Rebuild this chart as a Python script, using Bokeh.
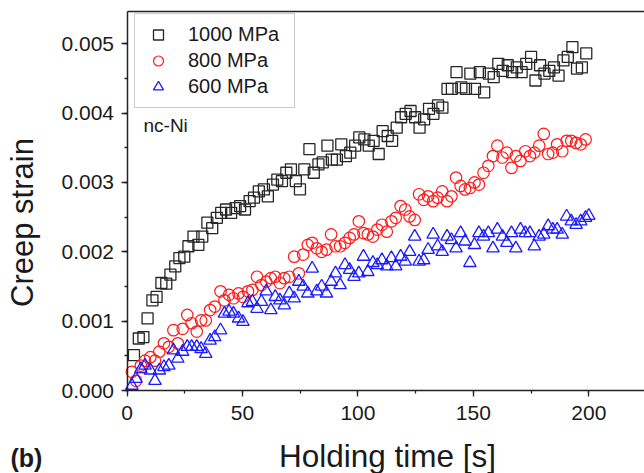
from bokeh.plotting import figure
from bokeh.models import (ColumnDataSource, SingleIntervalTicker, NumeralTickFormatter, FixedTicker,
                          Label, Legend, LegendItem, Range1d, LinearAxis)
from bokeh.embed import file_html
from bokeh.resources import INLINE

# ---------------- data (strain values in units of 1e-3) ----------------
t_1000 = [3, 5.1, 7.1, 8.9, 11, 12.8, 14.9, 17, 18.8, 20.9, 22.7, 24.8, 26.6, 28.8, 30.9,
          32.6, 34.8, 36.9, 38.9, 40.8, 42.9, 45.1, 47, 49, 51.1, 53.1, 55, 57.1, 59.3,
          61, 63.2, 65.1, 67.1, 69, 71, 73.1, 74.9, 76.8, 79, 80.9, 82.9, 84.8, 86.8,
          88.7, 90.9, 92.8, 94.8, 96.7, 98.8, 100.6, 102.8, 104.7, 106.8, 109, 110.7,
          112.9, 114.8, 116.8, 118.7, 120.7, 122.8, 124.8, 126.7, 128.7, 130.8, 132.7,
          134.7, 136.6, 138.8, 140.7, 142.7, 144.8, 146.8, 148.7, 150.7, 152.8, 154.7,
          156.7, 158.8, 160.8, 162.7, 164.9, 166.8, 168.8, 170.9, 172.9, 175, 176.9,
          178.9, 180.8, 182.9, 184.9, 186.9, 189, 190.9, 192.9, 194.9, 197, 198.9]
e_1000 = [0.51, 0.75, 0.77, 1.04, 1.30, 1.35, 1.55, 1.54, 1.67, 1.79, 1.91, 1.93, 2.08,
          2.22, 2.10, 2.22, 2.42, 2.34, 2.49, 2.56, 2.61, 2.56, 2.63, 2.66, 2.61, 2.73,
          2.78, 2.87, 2.90, 2.80, 2.97, 3.04, 3.02, 3.14, 3.19, 3.02, 2.90, 3.19, 3.48,
          3.14, 3.26, 3.29, 3.53, 3.33, 3.33, 3.55, 3.38, 3.43, 3.53, 3.65, 3.62, 3.53,
          3.60, 3.41, 3.74, 3.67, 3.60, 3.79, 3.94, 3.99, 4.03, 3.94, 3.79, 3.91, 4.06,
          3.99, 4.11, 4.08, 4.35, 4.35, 4.59, 4.37, 4.35, 4.57, 4.35, 4.59, 4.30, 4.57,
          4.52, 4.71, 4.61, 4.69, 4.59, 4.66, 4.59, 4.71, 4.81, 4.47, 4.69, 4.57, 4.61,
          4.66, 4.54, 4.76, 4.81, 4.95, 4.64, 4.66, 4.86]

t_800 = [2.1, 3.9, 6, 7.8, 10.1, 12.1, 14, 16, 18.1, 20.1, 22, 24.1, 26.1, 28, 30.2, 32.1,
         34.1, 36, 38, 40.5, 42.2, 44.2, 46.1, 48.3, 50.2, 52.4, 54.3, 56.3, 58.2, 60.3,
         62.3, 64.2, 66.2, 68.1, 70.3, 72.4, 74.4, 76.3, 78.3, 80.2, 82.2, 84.3, 86.4,
         88.4, 90.3, 92.3, 94.4, 96.4, 98.3, 100.4, 102.4, 104.3, 106.5, 108.4, 110.4,
         112.5, 114.5, 116.4, 118.5, 120.5, 122.4, 124.6, 126.5, 128.5, 130.4, 132.6,
         134.5, 136.5, 138.6, 140.5, 142.5, 144.5, 146.4, 148.5, 150.5, 152.4, 154.4,
         156.5, 158.5, 160.4, 162.6, 164.5, 166.5, 168.4, 170.4, 172.5, 174.5, 176.4,
         178.5, 180.5, 182.4, 184.4, 186.3, 188.5, 190.4, 192.4, 194.5, 196.5, 198.6]
e_800 = [0.27, 0.14, 0.36, 0.43, 0.48, 0.43, 0.56, 0.68, 0.63, 0.87, 0.68, 0.89, 1.09,
         0.97, 0.85, 1.01, 1.01, 1.16, 1.21, 1.43, 1.30, 1.38, 1.33, 1.40, 1.35, 1.43,
         1.45, 1.64, 1.52, 1.57, 1.62, 1.64, 1.55, 1.62, 1.64, 1.93, 1.69, 1.96, 2.10,
         2.13, 2.05, 2.00, 2.03, 2.25, 2.08, 2.08, 2.13, 2.20, 2.25, 2.44, 2.27, 2.25,
         2.22, 2.32, 2.39, 2.29, 2.44, 2.49, 2.66, 2.61, 2.51, 2.46, 2.83, 2.75, 2.80,
         2.73, 2.78, 2.87, 2.73, 2.80, 3.07, 2.95, 2.90, 2.92, 3.00, 2.97, 3.14, 3.24,
         3.38, 3.53, 3.36, 3.43, 3.21, 3.38, 3.31, 3.45, 3.38, 3.43, 3.53, 3.70, 3.41,
         3.43, 3.55, 3.45, 3.60, 3.60, 3.57, 3.55, 3.62]

t_600 = [2.1, 3.9, 6, 7.8, 10.1, 12.1, 14, 16, 18.1, 20.1, 22, 24.1, 26.1, 28, 30.2, 32.1,
         34.1, 36, 38, 40.5, 42.2, 44.2, 46.1, 48.3, 50.2, 52.4, 54.3, 56.3, 58.2, 60.3,
         62.3, 64.2, 66.2, 68.1, 70.3, 72.4, 74.4, 76.3, 78.3, 80.2, 82.2, 84.3, 86.4,
         88.4, 90.3, 92.3, 94.4, 96.4, 98.3, 100.4, 102.4, 104.3, 106.5, 108.4, 110.4,
         112.5, 114.5, 116.4, 118.5, 120.5, 122.4, 124.6, 126.5, 128.5, 130.4, 132.6,
         134.5, 136.5, 138.6, 140.5, 142.5, 144.5, 146.4, 148.5, 150.5, 152.4, 154.4,
         156.5, 158.5, 160.4, 162.6, 164.5, 166.5, 168.4, 170.4, 172.5, 174.5, 176.4,
         178.5, 180.5, 182.4, 184.4, 186.3, 188.5, 190.4, 192.4, 194.5, 196.5, 198.6, 200]
e_600 = [0.07, 0.17, 0.31, 0.36, 0.29, 0.14, 0.29, 0.34, 0.36, 0.58, 0.46, 0.56, 0.63,
         0.63, 0.63, 0.60, 0.53, 0.72, 0.77, 0.87, 1.11, 1.14, 1.11, 1.04, 0.99, 1.26,
         1.28, 1.18, 1.28, 1.43, 1.16, 1.35, 1.30, 1.23, 1.40, 1.33, 1.57, 1.50, 1.40,
         1.76, 1.43, 1.50, 1.40, 1.57, 1.69, 1.52, 1.81, 1.74, 1.64, 1.69, 1.93, 1.71,
         1.84, 1.81, 1.88, 1.79, 1.91, 1.79, 1.93, 1.86, 2.00, 2.22, 1.86, 1.88, 2.03,
         2.25, 2.08, 2.00, 2.22, 2.17, 2.05, 2.27, 2.15, 1.84, 2.10, 2.27, 2.22, 2.27,
         2.05, 2.32, 2.22, 2.13, 2.27, 2.05, 2.32, 2.27, 2.27, 2.08, 2.22, 2.25, 2.37,
         2.32, 2.32, 2.25, 2.51, 2.44, 2.39, 2.44, 2.49, 2.52]

series_labels = ["1000 MPa", "800 MPa", "600 MPa"]
x_ticks_interval = 50
y_ticks_interval = 0.001
x_axis_max = 224.1      # plot frame runs off the right edge of the picture
y_axis_max = 0.005465   # top frame line

FONT = "Liberation Sans"
INK = "#1a1a1a"

# the canvas itself is the frame; axes are pinned at the data origin
p = figure(width=644, height=473, output_backend="svg", toolbar_location=None,
           x_range=Range1d(-54.79, 224.12), y_range=Range1d(-0.0011968, 0.0056237),
           min_border=0)
p.background_fill_color = "white"
p.border_fill_color = "white"
p.outline_line_color = None
p.grid.visible = False

src1 = ColumnDataSource(dict(x=t_1000, y=[v * 1e-3 for v in e_1000]))
src2 = ColumnDataSource(dict(x=t_800, y=[v * 1e-3 for v in e_800]))
src3 = ColumnDataSource(dict(x=t_600, y=[v * 1e-3 for v in e_600]))

r1 = p.scatter("x", "y", source=src1, marker="square", size=11, fill_color=None,
               line_color="#262626", line_width=1.3)
r2 = p.scatter("x", "y", source=src2, marker="circle", size=11.5, fill_color=None,
               line_color="#ff1a1a", line_width=1.2)
r3 = p.scatter("x", "y", source=src3, marker="triangle", size=12.5, fill_color=None,
               line_color="#1a1aff", line_width=1.3)

xax = p.xaxis[0]
yax = p.yaxis[0]
xax.fixed_location = 0
yax.fixed_location = 0
xax.bounds = (0, x_axis_max)
yax.bounds = (0, y_axis_max)

for ax in (xax, yax):
    ax.axis_line_color = "#222222"
    ax.axis_line_width = 1.5
    ax.major_tick_line_color = "#222222"
    ax.minor_tick_line_color = "#222222"
    ax.major_tick_line_width = 1.3
    ax.minor_tick_line_width = 1.3
    ax.major_tick_out = 6
    ax.major_tick_in = 0
    ax.minor_tick_out = 3
    ax.minor_tick_in = 0
    ax.major_label_text_font = FONT
    ax.major_label_text_font_size = "21px"
    ax.major_label_text_color = INK

xax.ticker = SingleIntervalTicker(interval=x_ticks_interval, num_minor_ticks=2)
yax.ticker = SingleIntervalTicker(interval=y_ticks_interval, num_minor_ticks=2)
yax.formatter = NumeralTickFormatter(format="0.000")
xax.major_label_standoff = 9
yax.major_label_standoff = 7

# top frame line (an axis with no ticks)
top = LinearAxis(fixed_location=y_axis_max, bounds=(0, x_axis_max),
                 ticker=FixedTicker(ticks=[]), axis_line_color="#222222", axis_line_width=1.5,
                 major_tick_line_color=None, minor_tick_line_color=None,
                 major_label_text_font_size="0px")
p.add_layout(top, "above")

# texts
p.add_layout(Label(x=22, y=251, x_units="screen", y_units="screen", text="Creep strain",
                   angle=1.5708, angle_units="rad", text_align="center", text_baseline="middle",
                   text_font=FONT, text_font_size="31px", text_color=INK))
p.add_layout(Label(x=387, y=18, x_units="screen", y_units="screen", text="Holding time [s]",
                   text_align="center", text_baseline="middle",
                   text_font=FONT, text_font_size="31.5px", text_color=INK))
p.add_layout(Label(x=10, y=16, x_units="screen", y_units="screen", text="(b)",
                   text_align="left", text_baseline="middle", text_font_style="bold",
                   text_font=FONT, text_font_size="25px", text_color=INK))
p.add_layout(Label(x=143, y=348, x_units="screen", y_units="screen", text="nc-Ni",
                   text_align="left", text_baseline="middle",
                   text_font=FONT, text_font_size="19px", text_color=INK))

legend = Legend(items=[LegendItem(label=series_labels[0], renderers=[r1]),
                       LegendItem(label=series_labels[1], renderers=[r2]),
                       LegendItem(label=series_labels[2], renderers=[r3])],
                location=(134, 365))
legend.padding = 8
legend.spacing = 1
legend.glyph_width = 30
legend.glyph_height = 25
legend.label_height = 25
legend.label_width = 98
legend.label_standoff = 15
legend.label_text_font = FONT
legend.label_text_font_size = "20px"
legend.label_text_color = INK
legend.border_line_color = "#999999"
legend.border_line_width = 1.2
legend.background_fill_color = "white"
legend.background_fill_alpha = 1.0
p.add_layout(legend)

open("out.html", "w").write(file_html(p, INLINE))
